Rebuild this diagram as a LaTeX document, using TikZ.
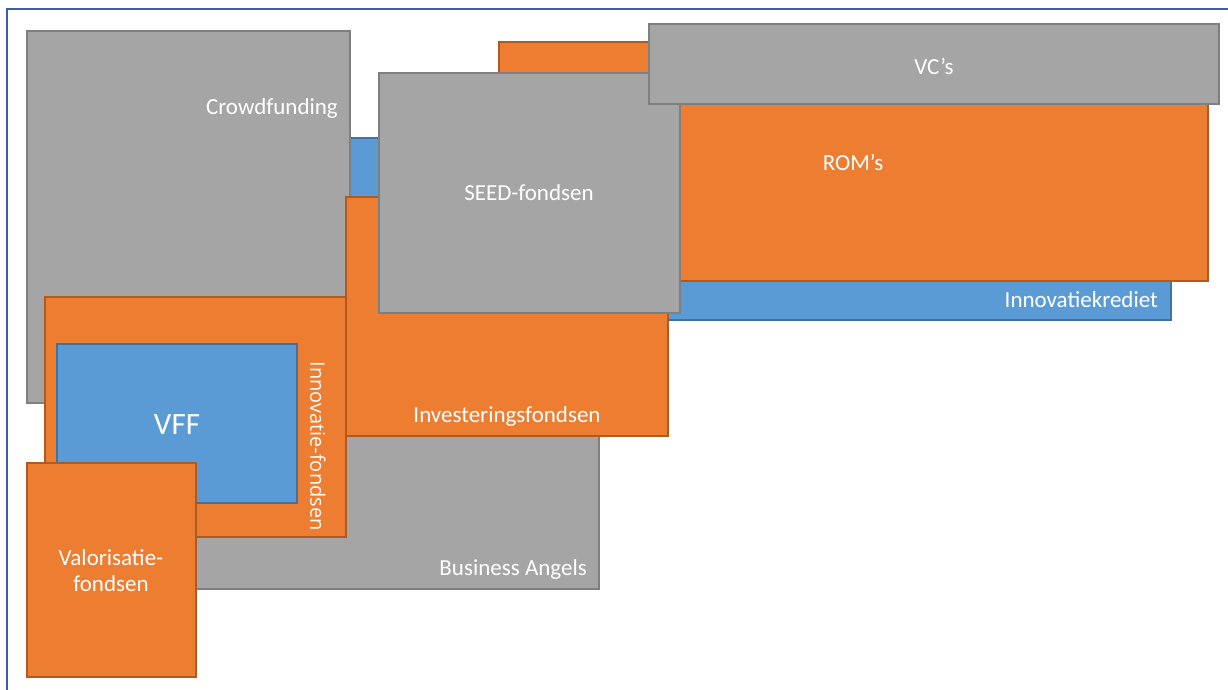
\documentclass[tikz,border=0pt]{standalone}
\usepackage{fontspec}
\setmainfont{Carlito}
\newfontfamily\rotfont{Open Sans}
\definecolor{gfill}{HTML}{A5A5A5}
\definecolor{gline}{HTML}{7F7F7F}
\definecolor{ofill}{HTML}{ED7D31}
\definecolor{oline}{HTML}{AE5A21}
\definecolor{bfill}{HTML}{5B9BD5}
\definecolor{bline}{HTML}{41719C}
\definecolor{frame}{HTML}{3A5FA8}
\begin{document}
\begin{tikzpicture}[x=1pt,y=-1pt,
  box/.style={rectangle,inner sep=0pt,outer sep=0pt,line width=1.2pt,anchor=north west},
  graybox/.style={box,fill=gfill,draw=gline},
  orangebox/.style={box,fill=ofill,draw=oline},
  bluebox/.style={box,fill=bfill,draw=bline},
  lbl/.style={text=white,inner sep=0pt,font=\fontsize{23}{27}\selectfont}]
\useasboundingbox (0,0) rectangle (1228,690);
\fill[white] (0,0) rectangle (1228,690);
\coordinate (ftop) at (1228,9);
\coordinate (fcorner) at (7,9);
\coordinate (fbot) at (7,690);
\draw[frame,line width=1.5pt] (ftop) -- (fcorner) -- (fbot);
% blue Innovatiekrediet
\node[bluebox,minimum width=871pt,minimum height=182pt] (ik) at (300,138) {};
% Crowdfunding
\node[graybox,minimum width=323pt,minimum height=372pt] (cf) at (27,31) {};
% Business Angels
\node[graybox,minimum width=499pt,minimum height=169pt] (ba) at (100,420) {};
% ROM's
\node[orangebox,minimum width=709pt,minimum height=239pt] (rom) at (499,42) {};
% Investeringsfondsen
\node[orangebox,minimum width=322pt,minimum height=239pt] (inv) at (346,197) {};
% SEED-fondsen
\node[graybox,minimum width=301pt,minimum height=240pt] (seed) at (379,73) {};
% VC's
\node[graybox,minimum width=570pt,minimum height=80pt] (vc) at (649,24) {};
% Innovatie-fondsen
\node[orangebox,minimum width=301pt,minimum height=240pt] (inf) at (45,297) {};
% VFF
\node[bluebox,minimum width=240pt,minimum height=159pt] (vff) at (57,344) {};
% Valorisatiefondsen
\node[orangebox,minimum width=169pt,minimum height=214pt] (val) at (27,463) {};
% labels
\node[lbl,anchor=east] (cfl) at (338,108) {Crowdfunding};
\node[lbl] (seedl) at (529,193) {SEED-fondsen};
\node[lbl] (vcl) at (934,66) {VC’s};
\node[lbl] (roml) at (853,162) {ROM’s};
\node[lbl,anchor=east] (ikl) at (1158,300) {Innovatiekrediet};
\node[lbl] (invl) at (507,416) {Investeringsfondsen};
\node[lbl,anchor=east] (bal) at (587,569) {Business Angels};
\node[lbl,font=\fontsize{31}{35}\selectfont] (vffl) at (177,425) {VFF};
\node[lbl,align=center,font=\fontsize{23}{26}\selectfont] (vall) at (111,571) {Valorisatie-\\fondsen};
\node[lbl,rotate=-90,font=\rotfont\fontsize{20}{24}\selectfont] (infl) at (318,446) {Innovatie-fondsen};
\end{tikzpicture}
\end{document}
